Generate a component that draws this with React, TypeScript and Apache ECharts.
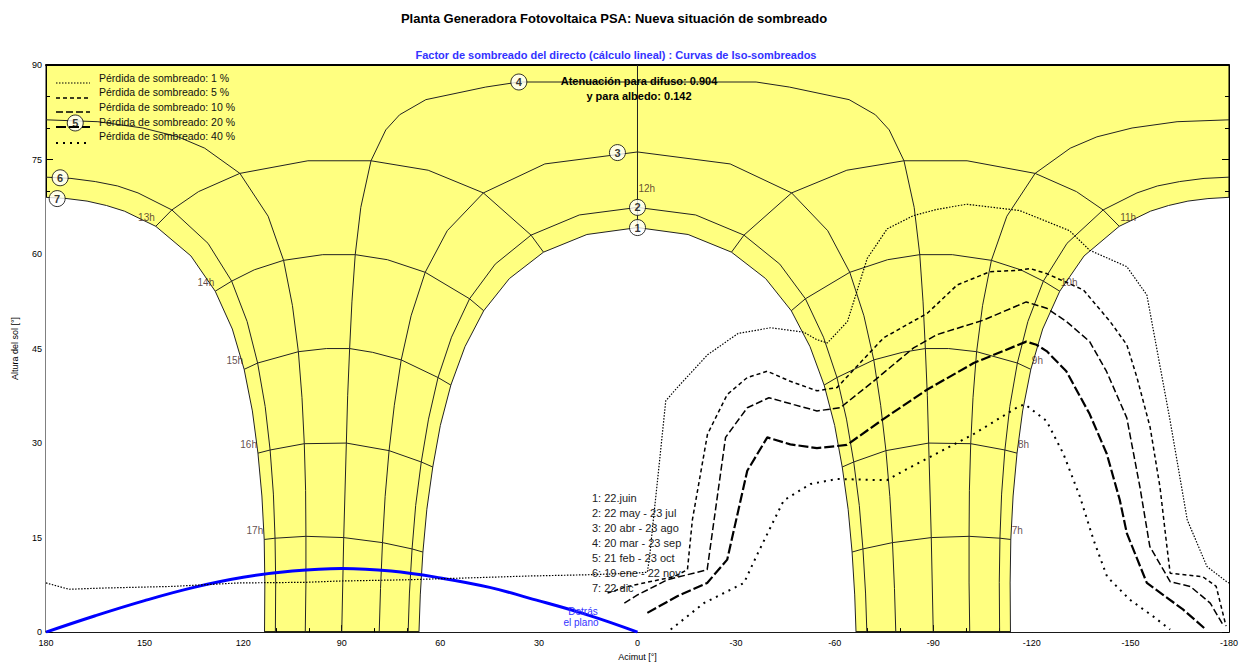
import React, { useEffect, useRef } from "react";
import * as echarts from "echarts";

// ---------- Date curves (sun paths seen from the plane) [azimut, altura] ----------
const curve1 = [[-66.5,0],[-66.1,5.9],[-65.3,12.7],[-64.1,19.5],[-62.3,26.2],[-60.0,32.8],[-56.8,39.2],[-52.5,45.3],[-46.8,51.0],[-39.0,56.1],[-28.6,60.3],[-15.4,63.1],[0,64.2],[15.4,63.1],[28.6,60.3],[39.0,56.1],[46.8,51.0],[52.5,45.3],[56.8,39.2],[60.0,32.8],[62.3,26.2],[64.1,19.5],[65.3,12.7],[66.1,5.9],[66.5,0]];
const curve2 = [[-69.8,0],[-69.4,6.2],[-68.6,13.2],[-67.5,20.1],[-65.8,27.0],[-63.6,33.8],[-60.7,40.4],[-56.6,46.8],[-51.1,52.9],[-43.3,58.4],[-32.4,63.0],[-17.7,66.2],[0,67.4],[17.7,66.2],[32.4,63.0],[43.3,58.4],[51.1,52.9],[56.6,46.8],[60.7,40.4],[63.6,33.8],[65.8,27.0],[67.5,20.1],[68.6,13.2],[69.4,6.2],[69.8,0]];
const curve3 = [[-78.6,0],[-78.2,6.9],[-77.6,14.2],[-76.8,21.5],[-75.6,28.8],[-74.0,36.0],[-71.9,43.2],[-68.9,50.2],[-64.6,57.1],[-57.9,63.7],[-46.9,69.7],[-28.2,74.3],[0,76.2],[28.2,74.3],[46.9,69.7],[57.9,63.7],[64.6,57.1],[68.9,50.2],[71.9,43.2],[74.0,36.0],[75.6,28.8],[76.8,21.5],[77.6,14.2],[78.2,6.9],[78.6,0]];
const curve4 = [[-90,0],[-89.4,15.0],[-88.6,30.0],[-88.2,37.5],[-87.6,45.0],[-86.9,52.4],[-85.9,59.9],[-84.2,67.4],[-81.1,74.8],[-76.6,79.7],[-72.4,82.1],[-64.4,84.5],[-46.2,86.5],[-36.1,87.3],[36.1,87.3],[46.2,86.5],[64.4,84.5],[72.4,82.1],[76.6,79.7],[81.1,74.8],[84.2,67.4],[85.9,59.9],[86.9,52.4],[87.6,45.0],[88.2,37.5],[88.6,30.0],[89.4,15.0],[90,0]];
const curve5Pm = [[180,81.3],[164.2,81.0],[150.5,80.0],[139.8,78.6],[131.7,76.8],[121.0,72.8],[112.4,66.0],[107.7,59.0],[105.0,51.8],[103.2,44.5],[102.1,37.2],[101.4,29.9],[101.0,22.5],[100.9,15.2],[100.9,7.8],[101.1,0]];
const curve5Am = [[-180,81.3],[-164.2,81.0],[-150.5,80.0],[-139.8,78.6],[-131.7,76.8],[-121.0,72.8],[-112.4,66.0],[-107.7,59.0],[-105.0,51.8],[-103.2,44.5],[-102.1,37.2],[-101.4,29.9],[-101.0,22.5],[-100.9,15.2],[-100.9,7.8],[-101.1,0]];
const curve6Pm = [[180,72.2],[172.4,72.0],[165.0,71.5],[158.2,70.8],[152.0,69.7],[141.7,67.0],[130.7,61.7],[123.5,55.7],[118.8,49.3],[115.6,42.7],[113.3,35.8],[111.8,28.9],[110.8,21.9],[110.3,14.9],[110.1,7.9],[110.2,0]];
const curve6Am = [[-180,72.2],[-172.4,72.0],[-165.0,71.5],[-158.2,70.8],[-152.0,69.7],[-141.7,67.0],[-130.7,61.7],[-123.5,55.7],[-118.8,49.3],[-115.6,42.7],[-113.3,35.8],[-111.8,28.9],[-110.8,21.9],[-110.3,14.9],[-110.1,7.9],[-110.2,0]];
const curve7Pm = [[180,69.0],[173.6,68.8],[167.5,68.4],[161.6,67.7],[156.1,66.8],[146.6,64.4],[135.9,59.7],[128.5,54.1],[123.3,48.1],[119.7,41.7],[117.2,35.1],[115.5,28.4],[114.3,21.6],[113.6,14.7],[113.4,7.8],[113.5,0]];
const curve7Am = [[-180,69.0],[-173.6,68.8],[-167.5,68.4],[-161.6,67.7],[-156.1,66.8],[-146.6,64.4],[-135.9,59.7],[-128.5,54.1],[-123.3,48.1],[-119.7,41.7],[-117.2,35.1],[-115.5,28.4],[-114.3,21.6],[-113.6,14.7],[-113.4,7.8],[-113.5,0]];

// ---------- Hour lines ----------
const h7 = [[-113.6,14.7],[-110.3,14.9],[-100.9,15.2],[-89.4,15.0],[-77.6,14.2],[-68.6,13.2],[-65.3,12.7]];
const h8 = [[-115.5,28.4],[-111.8,28.9],[-101.4,29.9],[-88.6,30.0],[-75.6,28.8],[-65.8,27.0],[-62.3,26.2]];
const h9 = [[-119.7,41.7],[-115.6,42.7],[-103.2,44.5],[-94.7,45.0],[-87.6,45.0],[-80.6,44.4],[-71.9,43.2],[-60.7,40.4],[-56.8,39.2]];
const h10 = [[-128.5,54.1],[-123.5,55.7],[-116.6,57.5],[-107.7,59.0],[-95.8,59.9],[-85.9,59.9],[-76.1,59.1],[-64.6,57.1],[-51.1,52.9],[-46.8,51.0]];
const h11 = [[-146.6,64.4],[-141.7,67.0],[-133.6,69.9],[-121.0,72.8],[-100.3,74.8],[-81.1,74.8],[-63.7,73.3],[-46.9,69.7],[-32.4,63.0],[-28.6,60.3]];
const h12 = [[0,64.2],[0,90]];
const h13 = [[146.6,64.4],[141.7,67.0],[133.6,69.9],[121.0,72.8],[100.3,74.8],[81.1,74.8],[63.7,73.3],[46.9,69.7],[32.4,63.0],[28.6,60.3]];
const h14 = [[128.5,54.1],[123.5,55.7],[116.6,57.5],[107.7,59.0],[95.8,59.9],[85.9,59.9],[76.1,59.1],[64.6,57.1],[51.1,52.9],[46.8,51.0]];
const h15 = [[119.7,41.7],[115.6,42.7],[103.2,44.5],[94.7,45.0],[87.6,45.0],[80.6,44.4],[71.9,43.2],[60.7,40.4],[56.8,39.2]];
const h16 = [[115.5,28.4],[111.8,28.9],[101.4,29.9],[88.6,30.0],[75.6,28.8],[65.8,27.0],[62.3,26.2]];
const h17 = [[113.6,14.7],[110.3,14.9],[100.9,15.2],[89.4,15.0],[77.6,14.2],[68.6,13.2],[65.3,12.7]];

const hourNames = ["7h","8h","9h","10h","11h","12h","13h","14h","15h","16h","17h"];
const hourLabelPts = [[-113.6,14.7],[-115.5,28.4],[-119.7,41.7],[-128.5,54.1],[-146.6,64.4],[0,69.0],[146.6,64.4],[128.5,54.1],[119.7,41.7],[115.5,28.4],[113.6,14.7]];

// numbered circles on each date curve
const circlePts = [[0,64.2],[0,67.4],[6.1,76.1],[36.1,87.3],[171.1,80.8],[175.7,72.1],[176.6,68.8]];

// ---------- "Detrás el plano" ----------
const behindPlane = [[180,0],[165,2.6],[150,5.0],[135,7.1],[120,8.7],[105,9.7],[90,10.1],[75,9.7],[60,8.6],[45,7.1],[33,5.4],[15,2.7],[0,0]];

// ---------- Iso-shading curves ----------
const iso1 = [[180,7.8],[173,6.8],[162,7.0],[141.6,7.25],[121.4,7.8],[101,7.9],[91,8.1],[70.6,8.3],[45.3,8.7],[33.2,8.9],[15,9.1],[1,9.35],[-3,9.5],[-3.7,12],[-4.7,17.2],[-6.2,24.6],[-8.6,36.7],[-12.1,38.8],[-21.3,44.0],[-30.6,47.4],[-40.5,48.3],[-50.6,47.6],[-54.6,46.4],[-57.8,45.9],[-63.9,49.3],[-69.9,59.3],[-76,64.0],[-84,66.1],[-91.2,67.1],[-100.2,67.9],[-116.3,66.9],[-131.5,63.7],[-137.6,60.6],[-148.9,58],[-155,53.5],[-162.1,33.5],[-167.3,17.8],[-173.3,10.4],[-179.3,8.0],[-180,7.8]];
const iso5 = [[9.1,6.2],[3,7.25],[-11.1,8.8],[-15.2,9.9],[-16.7,17.8],[-21.3,31.4],[-27.3,37.7],[-33.4,40.4],[-39.5,41.4],[-46.5,39.8],[-54.6,38.3],[-60.7,38.8],[-66.8,42.2],[-74.9,46.7],[-88.2,50.6],[-97.3,55.1],[-107.3,57.2],[-115.4,57.4],[-119.4,57.7],[-124.5,56.9],[-135.7,54.3],[-143.8,49.3],[-148.9,45.6],[-152,40.4],[-156,32.5],[-159,23],[-161.1,13.6],[-162.1,9.35],[-172,8.8],[-176.1,7.25],[-179.1,0.95]];
const iso10 = [[4,4.6],[0,5.9],[-9.1,8.3],[-21.2,9.9],[-26.8,30.9],[-33.4,35.6],[-40,37.2],[-47.6,36.1],[-54.6,35.1],[-61.7,35.6],[-71.8,39.8],[-84,45.1],[-91.1,47.2],[-105.2,49.5],[-118.3,52.4],[-124.5,51.4],[-130.5,49.3],[-137.6,46.1],[-142.7,41.4],[-148.9,34],[-152.9,23],[-155.9,13.6],[-162.1,8.0],[-168.2,7.25],[-174.3,4.6],[-178.4,0.95]];
const iso20 = [[-3,3.05],[-12.1,5.7],[-21.2,7.8],[-27.3,11.5],[-33.4,25.6],[-39.5,30.9],[-46.5,29.8],[-54.6,29.2],[-63.7,29.7],[-74.8,33.8],[-88.2,38.5],[-102.3,42.7],[-118.3,46.1],[-121.4,45.6],[-124.5,44.6],[-130.5,41.4],[-137.6,34.6],[-142.8,28.3],[-146.8,20.9],[-148.9,15.7],[-155,7.8],[-166,3.6],[-173,0.4]];
const iso40 = [[-10.1,0.4],[-20.2,4.6],[-32.4,7.8],[-36.6,12.5],[-44.5,20.9],[-52.6,23.5],[-60.7,24.3],[-75.9,24.1],[-81,25.6],[-88,27.5],[-102.2,31.4],[-116.3,35.9],[-118,36.1],[-124.5,33.5],[-129.6,28.3],[-134.7,21.4],[-138.8,14.6],[-142.9,8.8],[-149.8,5.15],[-156.9,2.5],[-162.1,0.4]];

const isoNames = ["Pérdida de sombreado: 1 %","Pérdida de sombreado: 5 %","Pérdida de sombreado: 10 %","Pérdida de sombreado: 20 %","Pérdida de sombreado: 40 %"];
const isoDash = [[1.5,1.5],[4,3],[7,3],[10,3],[2,5]];
const isoWidth = [1.2,1.5,1.5,2.2,2];

const dateLegend = ["1: 22.juin","2: 22 may - 23 jul","3: 20 abr - 23 ago","4: 20 mar - 23 sep","5: 21 feb - 23 oct","6: 19 ene - 22 nov","7: 22 dic"];

const FONT = "'Liberation Sans', Arial, sans-serif";
const GRID_COLOR = "#222";

function gridLine(data: number[][], width = 1) {
  return { type: "line", data, symbol: "none", silent: true, lineStyle: { color: GRID_COLOR, width }, z: 3 };
}
function holeLine(data: number[][]) {
  return { type: "line", data, symbol: "none", silent: true, lineStyle: { color: GRID_COLOR, width: 1 }, areaStyle: { color: "#ffffff", opacity: 1 }, z: 2 };
}

export default function App() {
  const ref = useRef<HTMLDivElement>(null);
  useEffect(() => {
    document.body.style.margin = "0";
    const chart = echarts.init(ref.current as HTMLDivElement, undefined, { renderer: "svg" });
    const isoData = [iso1, iso5, iso10, iso20, iso40];
    const series: any[] = [
      holeLine(curve1), holeLine(curve7Pm), holeLine(curve7Am),
      gridLine(curve2), gridLine(curve3), gridLine(curve4),
      gridLine(curve5Pm), gridLine(curve5Am), gridLine(curve6Pm), gridLine(curve6Am),
      gridLine(h7), gridLine(h8), gridLine(h9), gridLine(h10), gridLine(h11), gridLine(h12),
      gridLine(h13), gridLine(h14), gridLine(h15), gridLine(h16), gridLine(h17),
      { type: "line", name: "Detrás el plano", data: behindPlane, symbol: "none", smooth: 0.4, silent: true, lineStyle: { color: "#0000ff", width: 3 }, z: 4 },
      ...isoData.map((d, i) => ({
        type: "line", name: isoNames[i], data: d, symbol: "none", silent: true,
        lineStyle: { color: "#000", width: isoWidth[i], type: isoDash[i] }, z: 5,
      })),
      {
        type: "scatter", silent: true, z: 6,
        data: circlePts.map((p, i) => ({ value: p, name: String(i + 1) })),
        symbol: "circle", symbolSize: 16,
        itemStyle: { color: "#fff", borderColor: "#000", borderWidth: 1 },
        label: { show: true, position: "inside", formatter: "{b}", fontSize: 11, fontWeight: "bold", color: "#000", fontFamily: FONT },
      },
      {
        type: "scatter", silent: true, z: 7,
        data: hourLabelPts.map((p, i) => ({
          value: p, name: hourNames[i],
          label: p[0] > 1
            ? { position: [0, -3], align: "right", verticalAlign: "bottom" }
            : { position: [2, -3], align: "left", verticalAlign: "bottom" },
        })),
        symbol: "circle", symbolSize: 2, itemStyle: { color: "rgba(0,0,0,0)" },
        label: { show: true, formatter: "{b}", fontSize: 10, color: "#3a1a1a", fontFamily: FONT },
        labelLayout: { hideOverlap: false },
      },
    ];

    const legendY = [83, 98, 112, 127, 143];
    const legendTextY = [78, 92, 107, 122, 136];
    const graphic: any[] = [
      { type: "text", x: 614, y: 18, z: 100, style: { text: "Planta Generadora Fotovoltaica PSA: Nueva situación de sombreado", font: `bold 13px ${FONT}`, fill: "#000", align: "center", verticalAlign: "middle" } },
      { type: "text", x: 616, y: 55, z: 100, style: { text: "Factor de sombreado del directo (cálculo lineal) : Curvas de Iso-sombreados", font: `bold 11px ${FONT}`, fill: "#3333ff", align: "center", verticalAlign: "middle" } },
      { type: "text", x: 639, y: 81, z: 100, style: { text: "Atenuación para difuso: 0.904", font: `bold 11px ${FONT}`, fill: "#000", align: "center", verticalAlign: "middle" } },
      { type: "text", x: 639, y: 96, z: 100, style: { text: "y para albedo: 0.142", font: `bold 11px ${FONT}`, fill: "#000", align: "center", verticalAlign: "middle" } },
      { type: "text", x: 583, y: 611, z: 100, style: { text: "Detrás", font: `10px ${FONT}`, fill: "#3333ff", align: "center", verticalAlign: "middle" } },
      { type: "text", x: 581, y: 622, z: 100, style: { text: "el plano", font: `10px ${FONT}`, fill: "#3333ff", align: "center", verticalAlign: "middle" } },
      ...dateLegend.map((t, i) => ({ type: "text", x: 592, y: 498 + i * 15, z: 100, style: { text: t, font: `11px ${FONT}`, fill: "#222", align: "left", verticalAlign: "middle" } })),
      ...isoNames.map((t, i) => ({ type: "text", x: 99, y: legendTextY[i], z: 100, style: { text: t, font: `10.5px ${FONT}`, fill: "#111", align: "left", verticalAlign: "middle" } })),
      ...isoNames.map((_, i) => ({ type: "line", z: 100, shape: { x1: 56, y1: legendY[i], x2: 90, y2: legendY[i] }, style: { stroke: "#000", lineWidth: isoWidth[i], lineDash: isoDash[i] } })),
    ];

    chart.setOption({
      animation: false,
      backgroundColor: "#ffffff",
      textStyle: { fontFamily: FONT },
      grid: { left: 46, right: 8, top: 65, bottom: 30, show: true, backgroundColor: "#FFFF80", borderColor: "#000", borderWidth: 1 },
      xAxis: [
        {
          type: "value", min: -180, max: 180, interval: 30, inverse: true, position: "bottom",
          axisLine: { show: true, onZero: false, lineStyle: { color: "#000", width: 1.5 } },
          axisTick: { show: true, inside: true, length: 7, lineStyle: { color: "#000" } },
          minorTick: { show: true, splitNumber: 3, length: 4, lineStyle: { color: "#000" } },
          splitLine: { show: false }, minorSplitLine: { show: false },
          axisLabel: { fontSize: 9, color: "#000", margin: 6, fontFamily: FONT },
          name: "Acimut [°]", nameLocation: "middle", nameGap: 19, nameTextStyle: { fontSize: 9, color: "#000", fontFamily: FONT },
        },
        {
          type: "value", min: -180, max: 180, interval: 30, inverse: true, position: "top",
          axisLine: { show: true, onZero: false, lineStyle: { color: "#000", width: 2 } },
          axisTick: { show: false }, axisLabel: { show: false }, splitLine: { show: false },
        },
      ],
      yAxis: [
        {
          type: "value", min: 0, max: 90, interval: 15, position: "left",
          axisLine: { show: true, onZero: false, lineStyle: { color: "#000", width: 1 } },
          axisTick: { show: true, inside: true, length: 7, lineStyle: { color: "#000" } },
          minorTick: { show: true, splitNumber: 3, length: 4, lineStyle: { color: "#000" } },
          splitLine: { show: false },
          axisLabel: { fontSize: 9, color: "#000", margin: 4, fontFamily: FONT },
          name: "Altura del sol [°]", nameLocation: "middle", nameGap: 27, nameRotate: 90,
          nameTextStyle: { fontSize: 9, color: "#000", fontFamily: FONT },
        },
        {
          type: "value", min: 0, max: 90, interval: 15, position: "right",
          axisLine: { show: true, onZero: false, lineStyle: { color: "#000", width: 1 } },
          axisTick: { show: true, inside: true, length: 7, lineStyle: { color: "#000" } },
          minorTick: { show: true, splitNumber: 3, length: 4, lineStyle: { color: "#000" } },
          splitLine: { show: false }, axisLabel: { show: false },
        },
      ],
      series,
      graphic,
    });
    return () => chart.dispose();
  }, []);
  return <div ref={ref} style={{ width: 1241, height: 666 }} />;
}
